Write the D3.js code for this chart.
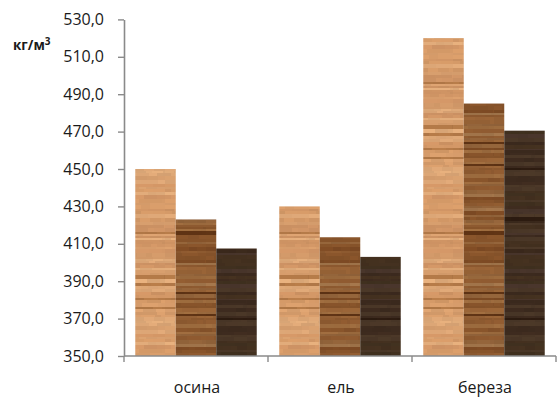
<!DOCTYPE html>
<html>
<head>
<meta charset="utf-8">
<script src="https://cdn.jsdelivr.net/npm/d3@7/dist/d3.min.js"></script>
<style>
  html, body { margin: 0; padding: 0; background: #fff; }
  svg { display: block; }
  text { font-family: "Open Sans", "Liberation Sans", sans-serif; fill: #1a1a1a; }
</style>
</head>
<body>
<svg id="chart" width="557" height="399"></svg>
<script>
// Wood density by species, kg/m³
const categories = ["осина", "ель", "береза"];
const seriesKeys = ["s1", "s2", "s3"];
const s1Values = [450.0, 430.0, 520.0];
const s2Values = [423.0, 413.5, 485.0];
const s3Values = [407.5, 403.0, 470.5];
const yTicks = [350, 370, 390, 410, 430, 450, 470, 490, 510, 530];
const unitLabel = "кг/м";
const unitSup = "3";

const seriesValues = [s1Values, s2Values, s3Values];

const W = 557, H = 399;
const plot = { left: 124, right: 556, top: 19.4, bottom: 356 };

const svg = d3.select("#chart");

// ---- wood-grain textures (deterministic stripe generator) ----
// last colour of each palette is the occasional dark grain accent
const woodPalettes = [
  ["#D59A68", "#D9A06F", "#DCA676", "#D19566", "#CF9464", "#E0AB7A", "#D69C6B", "#B47A48"],
  ["#8E5A30", "#966236", "#9C6B3E", "#86532A", "#A0744A", "#7E4B24", "#92633A", "#5E3314"],
  ["#3F2C1F", "#43301F", "#3A281B", "#47342A", "#3C2A1E", "#4A3727", "#40301F", "#2C1B10"]
];
function hashRng(seed) {
  let s = seed >>> 0;
  return () => {
    s = (s * 1664525 + 1013904223) >>> 0;
    return s / 4294967296;
  };
}
const defs = svg.append("defs");
const patW = 41, patH = 150;
woodPalettes.forEach((pal, i) => {
  const rnd = hashRng(7919 * (i + 3));
  const pat = defs.append("pattern")
    .attr("id", "wood" + i)
    .attr("patternUnits", "userSpaceOnUse")
    .attr("width", patW).attr("height", patH);
  pat.append("rect").attr("width", patW).attr("height", patH).attr("fill", pal[0]);
  let y = 0;
  while (y < patH) {
    const h = Math.min(patH - y, 2 + Math.floor(rnd() * 3));
    const base = pal[Math.floor(rnd() * (pal.length - 1))];
    const accent = rnd() < 0.08 ? pal[pal.length - 1] : null;
    let x = 0;
    while (x < patW) {
      const w = Math.min(patW - x, 6 + Math.floor(rnd() * 12));
      const c = d3.color(accent || base);
      const k = (rnd() - 0.5) * 0.22;
      pat.append("rect")
        .attr("x", x).attr("y", y).attr("width", w).attr("height", h)
        .attr("fill", k > 0 ? c.brighter(k).formatHex() : c.darker(-k).formatHex());
      x += w;
    }
    y += h;
  }
});

// ---- scales ----
const x0 = d3.scaleBand().domain(categories).range([plot.left, plot.right]).paddingInner(0).paddingOuter(0);
const x1 = d3.scaleBand().domain(seriesKeys).range([0, x0.bandwidth()]).paddingInner(0).paddingOuter(0.278);
const y = d3.scaleLinear().domain([350, 530]).range([plot.bottom, plot.top]);

// ---- bars ----
const groups = svg.append("g").selectAll("g")
  .data(categories)
  .join("g")
  .attr("transform", d => `translate(${x0(d)},0)`);

groups.selectAll("rect")
  .data((c, ci) => seriesKeys.map((k, si) => ({ key: k, si, value: seriesValues[si][ci] })))
  .join("rect")
  .attr("x", d => x1(d.key))
  .attr("y", d => y(d.value))
  .attr("width", x1.bandwidth())
  .attr("height", d => y(350) - y(d.value))
  .attr("fill", d => `url(#wood${d.si})`);

// ---- y axis ----
const axisColor = "#8a8a8a";
const fmt = v => d3.format(".1f")(v).replace(".", ",");
const yAxis = svg.append("g")
  .attr("transform", `translate(${plot.left},0)`)
  .call(d3.axisLeft(y).tickValues(yTicks).tickFormat(fmt).tickSize(6).tickPadding(14).tickSizeOuter(0));
yAxis.select(".domain").attr("stroke", axisColor).attr("stroke-width", 1.6);
yAxis.selectAll(".tick line").attr("stroke", axisColor).attr("stroke-width", 1.4);
yAxis.selectAll(".tick text")
  .attr("font-size", 16)
  .attr("font-family", "'Open Sans', 'Liberation Sans', sans-serif")
  .attr("fill", "#1a1a1a");

// ---- x axis ----
const xAxis = svg.append("g");
xAxis.append("line")
  .attr("x1", plot.left).attr("x2", plot.right)
  .attr("y1", plot.bottom).attr("y2", plot.bottom)
  .attr("stroke", axisColor).attr("stroke-width", 1.6);
const boundaries = categories.map(c => x0(c)).concat([x0(categories[categories.length - 1]) + x0.bandwidth()]);
xAxis.selectAll("line.tk")
  .data(boundaries)
  .join("line")
  .attr("class", "tk")
  .attr("x1", d => d).attr("x2", d => d)
  .attr("y1", plot.bottom).attr("y2", plot.bottom + 6)
  .attr("stroke", axisColor).attr("stroke-width", 1.4);
xAxis.selectAll("text")
  .data(categories)
  .join("text")
  .attr("x", d => x0(d) + x0.bandwidth() / 2 + 1)
  .attr("y", 393)
  .attr("text-anchor", "middle")
  .attr("font-size", 16)
  .text(d => d);

// ---- unit label ----
const unit = svg.append("text")
  .attr("x", 13).attr("y", 50)
  .attr("font-size", 13.5)
  .attr("font-weight", "bold");
unit.append("tspan").text(unitLabel);
unit.append("tspan").attr("font-size", 10).attr("dy", -5).text(unitSup);
</script>
</body>
</html>
